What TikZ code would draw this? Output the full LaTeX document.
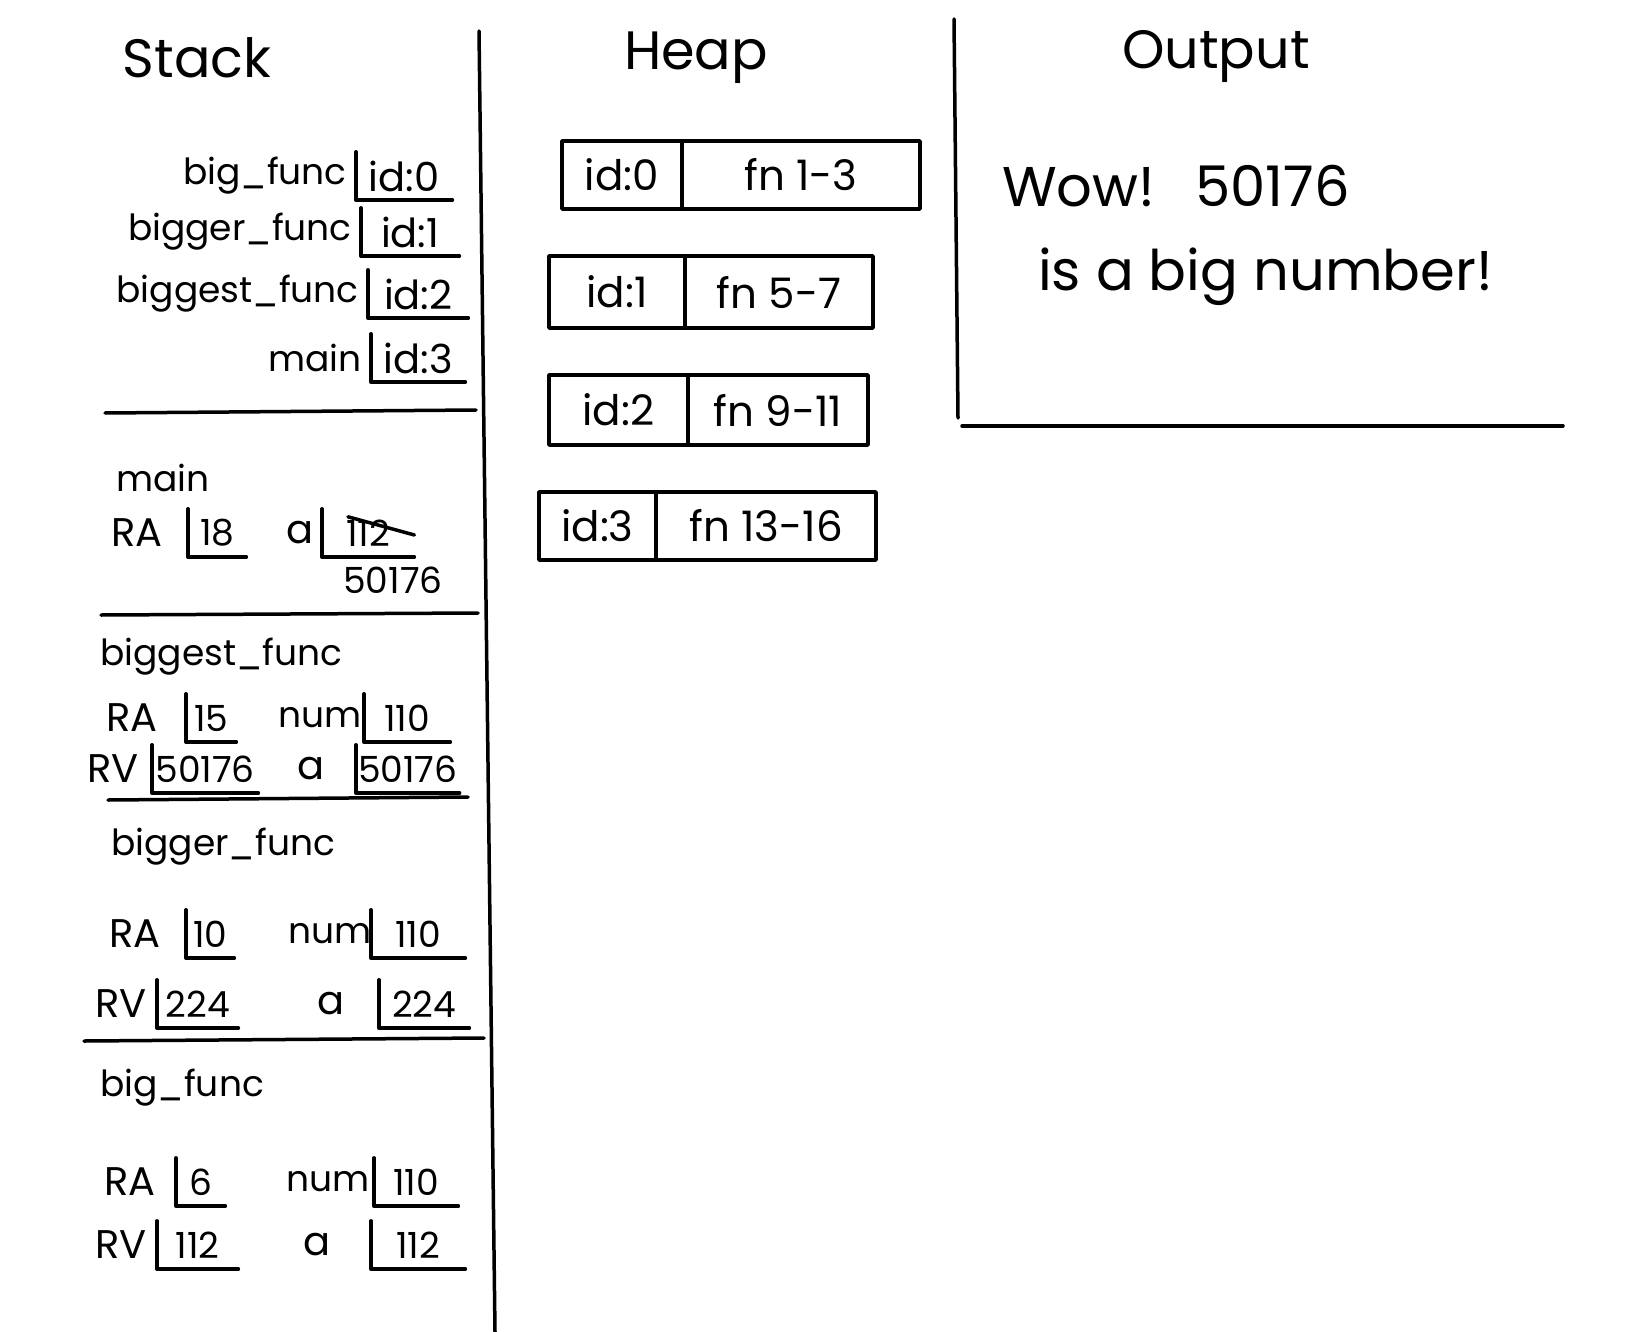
\documentclass[tikz,border=0pt]{standalone}
\usepackage{fontspec}
\setmainfont{Poppins}
\usetikzlibrary{positioning, calc}

\tikzset{
  ink/.style={line width=3.5pt, line cap=round, line join=round},
  title/.style={font=\fontsize{54}{60}\selectfont},
  lbl/.style={font=\fontsize{36}{40}\selectfont, inner sep=1pt},
  reg/.style={font=\fontsize{40}{44}\selectfont, inner sep=1pt, anchor=west},
  val/.style={font=\fontsize{36}{40}\selectfont, inner sep=1pt},
  lbar/.style={ink, to path={|- (\tikztotarget)}},
  cell/.style={val, anchor=west, minimum height=48pt, inner sep=2pt,
    append after command={(\tikzlastnode.north west) edge[lbar] (\tikzlastnode.south east)}},
  idcell/.style={cell, font=\fontsize{40}{44}\selectfont},
  heapcell/.style={draw, ink, font=\fontsize{42}{46}\selectfont, inner sep=0pt, outer sep=0pt},
  outtext/.style={font=\fontsize{56}{62}\selectfont, anchor=west, inner sep=0pt},
}

\begin{document}
\begin{tikzpicture}[x=1pt, y=-1pt]
\fill[white] (0,0) rectangle (1640,1332);
\useasboundingbox (0,0) rectangle (1640,1332);

% column rules
\draw[ink] (479,31) -- (495,1332);
\draw[ink] (954,19) -- (958,418);
\draw[ink] (962,426) -- (1563,426);

\node[title] (stack) at (197,58) {Stack};
\node[title] (heap) at (696,58) {Heap};
\node[title] (output) at (1216,56) {Output};

% function table
\node[idcell, minimum width=96] (sid0) at (356,176) {id:0};
\node[lbl, left=8pt of sid0] (sname0) {big\_func};
\node[idcell, minimum width=98] (sid1) at (361,232) {id:1};
\node[lbl, left=8pt of sid1] (sname1) {bigger\_func};
\node[idcell, minimum width=100] (sid2) at (368,294) {id:2};
\node[lbl, left=8pt of sid2] (sname2) {biggest\_func};
\node[idcell, minimum width=94] (sid3) at (371,358) {id:3};
\node[lbl, left=8pt of sid3] (sname3) {main};

\draw[ink] (105,413) -- (476,410);

% main
\node[lbl, anchor=west] (mainname) at (115,478) {main};
\node[reg] (mainra) at (110,533) {RA};
\node[cell, minimum width=58] (mainraval) at (188,533) {18};
\node[reg] (maina) at (285,533) {a};
\node[cell, minimum width=92] (mainaval) at (322,533) {112};
\draw[ink] ($(mainaval.north west)+(26,8)$) -- ($(mainaval.east)+(0,2)$);
\node[val] (mainanew) at (393,580) {50176};

\draw[ink] (101,615) -- (478,613);

% biggest_func
\node[lbl, anchor=west] (bgstname) at (99,657) {biggest\_func};
\node[reg] (bgstra) at (105,718) {RA};
\node[cell, minimum width=50] (bgstraval) at (186,718) {15};
\node[lbl] (bgstnum) at (320,718) {num};
\node[cell, minimum width=86] (bgstnumval) at (364,718) {110};
\node[reg] (bgstrv) at (86,769) {RV};
\node[cell, minimum width=106] (bgstrvval) at (152,769) {50176};
\node[reg] (bgsta) at (296,769) {a};
\node[cell, minimum width=100] (bgstaval) at (356,769) {50176};

\draw[ink] (108,800) -- (468,797);

% bigger_func
\node[lbl, anchor=west] (bgrname) at (110,847) {bigger\_func};
\node[reg] (bgrra) at (108,934) {RA};
\node[cell, minimum width=48] (bgrraval) at (186,934) {10};
\node[lbl] (bgrnum) at (330,934) {num};
\node[cell, minimum width=94] (bgrnumval) at (371,934) {110};
\node[reg] (bgrrv) at (94,1004) {RV};
\node[cell, minimum width=81] (bgrrvval) at (157,1004) {224};
\node[reg] (bgra) at (316,1004) {a};
\node[cell, minimum width=90] (bgraval) at (379,1004) {224};

\draw[ink] (84,1041) -- (484,1038);

% big_func
\node[lbl, anchor=west] (bigname) at (99,1088) {big\_func};
\node[reg] (bigra) at (103,1182) {RA};
\node[cell, minimum width=49] (bigraval) at (176,1182) {6};
\node[lbl] (bignum) at (328,1182) {num};
\node[cell, minimum width=84] (bignumval) at (374,1182) {110};
\node[reg] (bigrv) at (94,1245) {RV};
\node[cell, minimum width=81] (bigrvval) at (157,1245) {112};
\node[reg] (biga) at (302,1245) {a};
\node[cell, minimum width=94] (bigaval) at (371,1245) {112};

% heap
\node[heapcell, anchor=west, minimum width=120, minimum height=68] (hid0) at (562,175) {id:0};
\node[heapcell, right=0pt of hid0, minimum width=238, minimum height=68] (hfn0) {fn 1-3};
\node[heapcell, anchor=west, minimum width=136, minimum height=72] (hid1) at (549,292) {id:1};
\node[heapcell, right=0pt of hid1, minimum width=188, minimum height=72] (hfn1) {fn 5-7};
\node[heapcell, anchor=west, minimum width=139, minimum height=70] (hid2) at (549,410) {id:2};
\node[heapcell, right=0pt of hid2, minimum width=180, minimum height=70] (hfn2) {fn 9-11};
\node[heapcell, anchor=west, minimum width=117, minimum height=68] (hid3) at (539,526) {id:3};
\node[heapcell, right=0pt of hid3, minimum width=220, minimum height=68] (hfn3) {fn 13-16};

% output
\node[outtext] (wow) at (1002,186) {Wow!\hspace{40pt}50176};
\node[outtext] (bignumber) at (1038,277) {is a big number!};
\end{tikzpicture}
\end{document}
